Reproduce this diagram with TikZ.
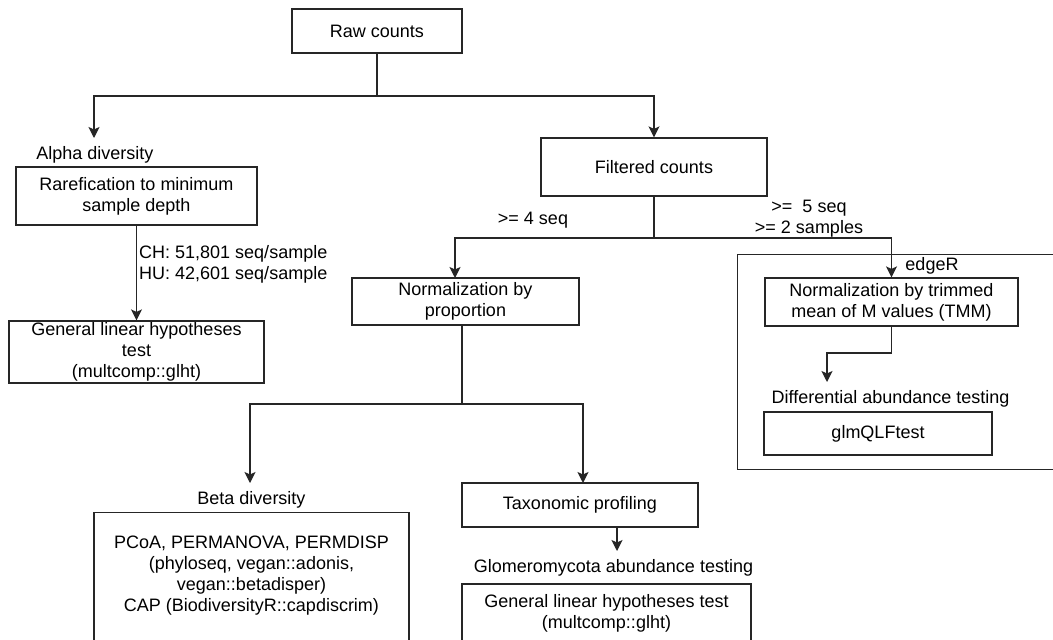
\documentclass[tikz,border=0pt]{standalone}
\usepackage{fontspec}
\setmainfont{Liberation Sans}
\usetikzlibrary{arrows.meta}
\begin{document}
\begin{tikzpicture}[x=1pt,y=-1pt,
  box/.style={draw=black!85, line width=1.2pt, rectangle, align=center, inner sep=0pt, font=\fontsize{18}{21}\selectfont},
  lbl/.style={align=center, inner sep=0pt, font=\fontsize{18}{21}\selectfont},
  conn/.style={draw=black!85, line width=1.2pt},
  arr/.style={conn, -{Stealth[length=11pt,width=11pt,inset=2.5pt]}}]
\clip (0,0) rectangle (1053,640);
\fill[white] (0,0) rectangle (1053,640);
% boxes
\node[box, minimum width=170, minimum height=44] (raw) at (377,31) {Raw counts};
\node[box, minimum width=241, minimum height=58] (rare) at (136.5,196) {Rarefication to minimum\\sample depth};
\node[box, minimum width=255, minimum height=62] (glht1) at (136.5,352) {General linear hypotheses\\test\\(multcomp::glht)};
\node[box, minimum width=226, minimum height=58] (filt) at (654,167) {Filtered counts};
\node[box, minimum width=227, minimum height=47] (normp) at (465.5,301.5) {Normalization by\\proportion};
\node[box, minimum width=333, minimum height=215, anchor=north west] (edger) at (737,254) {};
\node[box, minimum width=253, minimum height=48] (tmm) at (891.5,302) {Normalization by trimmed\\mean of M values (TMM)};
\node[box, minimum width=228, minimum height=43] (glmq) at (878,433.5) {glmQLFtest};
\node[box, minimum width=315, minimum height=140, anchor=north] (beta) at (251.5,512) {};
\node[lbl] (betatext) at (251.5,575.5) {PCoA, PERMANOVA, PERMDISP\\(phyloseq, vegan::adonis,\\vegan::betadisper)\\CAP (BiodiversityR::capdiscrim)};
\node[box, minimum width=236, minimum height=44] (taxo) at (580,505) {Taxonomic profiling};
\node[box, minimum width=289, minimum height=59] (glht2) at (606.5,613.5) {General linear hypotheses test\\(multcomp::glht)};
% labels
\node[lbl] (alpha) at (95,155) {Alpha diversity};
\node[lbl, anchor=west, align=left] (chhu) at (139,264.5) {CH: 51,801 seq/sample\\HU: 42,601 seq/sample};
\node[lbl] (ge4) at (533,220) {>= 4 seq};
\node[lbl] (ge5) at (809,219) {>= \ 5 seq\\>= 2 samples};
\node[lbl] (edgerlbl) at (932,266) {edgeR};
\node[lbl] (diff) at (890.5,399) {Differential abundance testing};
\node[lbl] (betalbl) at (251.5,500) {Beta diversity};
\node[lbl] (glom) at (613.5,568) {Glomeromycota abundance testing};
% connectors
\coordinate (rawJ) at (377,96);
\coordinate (alphaIn) at (94,138);
\draw[conn] (raw.south) -- (rawJ);
\draw[arr] (rawJ) -| (alphaIn);
\draw[arr] (rawJ) -| (filt.north);
\draw[arr] (rare.south) -- (glht1.north);
\coordinate (filtJ) at (654,238);
\coordinate (normpIn) at (455,278);
\draw[conn] (filt.south) -- (filtJ);
\draw[arr] (filtJ) -| (normpIn);
\draw[arr] (filtJ) -| (tmm.north);
\coordinate (normpOut) at (462,325);
\coordinate (normpJ) at (462,404);
\coordinate (betaIn) at (250,483);
\coordinate (taxoIn) at (583,483);
\draw[conn] (normpOut) -- (normpJ);
\draw[arr] (normpJ) -| (betaIn);
\draw[arr] (normpJ) -| (taxoIn);
\coordinate (taxoOut) at (617,527);
\coordinate (glomIn) at (617,551);
\draw[arr] (taxoOut) -- (glomIn);
\coordinate (tmmJ) at (891.5,353);
\coordinate (diffIn) at (827,382);
\draw[conn] (tmm.south) -- (tmmJ);
\draw[arr] (tmmJ) -| (diffIn);
\end{tikzpicture}
\end{document}
